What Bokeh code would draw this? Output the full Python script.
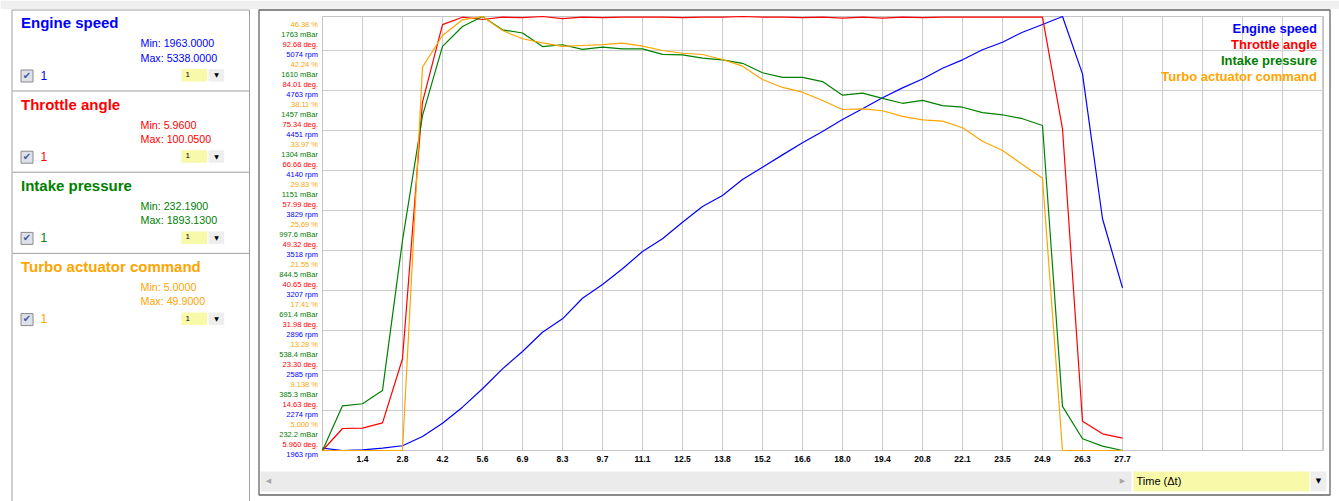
from bokeh.plotting import figure
from bokeh.models import Range1d
from bokeh.core.properties import value
from bokeh.embed import file_html
from bokeh.resources import INLINE

# ---------------- data ----------------
sample_index = list(range(41))
time_labels = ["1.4", "2.8", "4.2", "5.6", "6.9", "8.3", "9.7", "11.1", "12.5", "13.8",
               "15.2", "16.6", "18.0", "19.4", "20.8", "22.1", "23.5", "24.9", "26.3", "27.7"]

engine_speed = [1981, 1963, 1968, 1981, 2000, 2072, 2175, 2300, 2443, 2598, 2733, 2883, 2987, 3147,
                3254, 3376, 3510, 3609, 3738, 3860, 3946, 4070, 4166, 4262, 4356, 4444, 4537, 4620,
                4706, 4783, 4852, 4936, 5001, 5079, 5138, 5216, 5276, 5338, 4892, 3765, 3228]
throttle_angle = [5.96, 10.73, 10.8, 11.96, 25.84, 81.5, 98.3, 99.9, 99.4, 99.9, 99.8, 100.05, 99.6,
                  99.9, 99.8, 99.9, 99.9, 99.9, 99.8, 99.9, 99.9, 100.05, 99.9, 99.9, 99.8, 99.9,
                  99.7, 99.9, 99.7, 99.9, 99.8, 99.9, 99.9, 99.9, 99.9, 99.9, 99.9, 75.7, 12.3, 9.58, 8.63]
intake_pressure = [232.19, 403, 411, 462, 1036, 1514, 1779, 1855, 1893.13, 1842, 1830, 1778, 1785,
                   1767, 1776, 1769, 1769, 1748, 1746, 1734, 1727, 1714, 1678, 1660, 1660, 1644,
                   1592, 1600, 1580, 1561, 1572, 1552, 1546, 1525, 1517, 1502, 1476, 401, 277, 249, 232.19]
turbo_command = [5.0, 5.0, 5.0, 5.0, 5.0, 44.66, 47.94, 49.56, 49.9, 48.45, 47.6, 47.18, 46.8, 46.9,
                 47.0, 47.14, 46.83, 46.38, 46.1, 45.97, 45.45, 44.76, 43.38, 42.56, 42.07, 41.21,
                 40.28, 40.35, 40.15, 39.56, 39.21, 39.07, 38.39, 37.0, 36.04, 34.59, 33.17,
                 5.0, 5.0, 5.0, 5.0]

series_names = ["Engine speed", "Throttle angle", "Intake pressure", "Turbo actuator command"]
series_colors = ["#0000ff", "#ff0000", "#008000", "#ffa500"]
series_min = [1963.0, 5.96, 232.19, 5.0]
series_max = [5338.0, 100.05, 1893.13, 49.9]
series_units = ["rpm", "deg.", "mBar", "%"]

rpm_tick_text = ["1963", "2274", "2585", "2896", "3207", "3518", "3829", "4140", "4451", "4763", "5074"]
deg_tick_text = ["5.960", "14.63", "23.30", "31.98", "40.65", "49.32", "57.99", "66.66", "75.34", "84.01", "92.68"]
mbar_tick_text = ["232.2", "385.3", "538.4", "691.4", "844.5", "997.6", "1151", "1304", "1457", "1610", "1763"]
pct_tick_text = ["5.000", "9.138", "13.28", "17.41", "21.55", "25.69", "29.83", "33.97", "38.11", "42.24", "46.38"]

x_axis_title = "Time (\u0394t)"

# ---------------- layout constants (page pixels) ----------------
W, H = 1339, 501
PLOT_LEFT, PLOT_RIGHT, PLOT_TOP, PLOT_BOTTOM = 322, 1323, 16, 450
PX_PER_SAMPLE = 20
FONT = "Liberation Sans"
TDY = -1.0  # small vertical correction for middle-baseline text

p = figure(width=W, height=H, output_backend="svg", toolbar_location=None, title=None,
           x_range=Range1d(0, W), y_range=Range1d(H, 0),
           x_axis_location=None, y_axis_location=None,
           min_border=0, min_border_left=0, min_border_right=0,
           min_border_top=0, min_border_bottom=0)
p.grid.visible = False
p.outline_line_color = None
p.background_fill_color = "white"
p.border_fill_color = "white"

# scales of the plot area: sample index on x, each series' own min..max on y
plot_h = PLOT_BOTTOM - PLOT_TOP
ranges = {"t": Range1d(-PLOT_LEFT / PX_PER_SAMPLE, (W - PLOT_LEFT) / PX_PER_SAMPLE)}
range_names = ["rpm", "deg", "mbar", "pct"]
y_ranges = {}
for rn, lo, hi in zip(range_names, series_min, series_max):
    per_px = (hi - lo) / plot_h
    y_ranges[rn] = Range1d(lo - (H - PLOT_BOTTOM) * per_px, hi + PLOT_TOP * per_px)
p.extra_x_ranges = ranges
p.extra_y_ranges = y_ranges
t_end = (PLOT_RIGHT - PLOT_LEFT) / PX_PER_SAMPLE


def txt(px, py, s, size, color, bold=False, align="left", font=FONT):
    p.text(x=[px], y=[py + TDY], text=[s], text_font=value(font), text_font_size=value(f"{size}px"),
           text_color=color, text_font_style="bold" if bold else "normal",
           text_align=align, text_baseline="middle")


def rect(x0, y0, x1, y1, fill=None, line=None, lw=1.0):
    p.quad(left=[x0], right=[x1], top=[y0], bottom=[y1],
           fill_color=fill if fill else "white", fill_alpha=1.0 if fill else 0.0,
           line_color=line if line else "white", line_alpha=1.0 if line else 0.0, line_width=lw)


# top strip of the page
rect(0, 0, W, 8.5, fill="#efefef")

# ---------------- left side panel ----------------
rect(11.5, 9.5, 249, 520, fill="white", line="#a0a0a0")
section_h = 81.2
for k, (name, col) in enumerate(zip(series_names, series_colors)):
    dy = section_h * k
    if k > 0:
        p.segment(x0=[12], y0=[90.5 + section_h * (k - 1)], x1=[248.5], y1=[90.5 + section_h * (k - 1)],
                  line_color="#a0a0a0", line_width=1)
    txt(20.5, 23.3 + dy, name, 15, col, bold=True)
    txt(140, 43.8 + dy, f"Min: {series_min[k]:.4f}", 10.7, col)
    txt(140, 58 + dy, f"Max: {series_max[k]:.4f}", 10.7, col)
    rect(20.5, 69.5 + dy, 32.5, 81.5 + dy, fill="#dfe1ea", line="#8a8a8a")
    txt(26.5, 75.8 + dy, "\u2714", 10, "#3f5a9a", align="center", font="DejaVu Sans")
    txt(40, 75.8 + dy, "1", 12, col)
    rect(181, 68.5 + dy, 206.7, 81 + dy, fill="#f9f9aa")
    rect(208, 68.5 + dy, 223.7, 81 + dy, fill="#eeeeee")
    txt(185, 75 + dy, "1", 8, "#000000")
    txt(216, 75.3 + dy, "\u25BC", 6, "#000000", align="center", font="DejaVu Sans")

# ---------------- chart box ----------------
rect(258.5, 9.5, 1329.5, 494.5, line="#666666", lw=1.3)

# grid of the plot area
rpm_ticks = [float(t) for t in rpm_tick_text]
grid_x = list(range(2, int(t_end) + 1, 2))
p.segment(x0=grid_x, y0=[series_min[0]] * len(grid_x), x1=grid_x, y1=[series_max[0]] * len(grid_x),
          x_range_name="t", y_range_name="rpm", line_color="#cccccc", line_width=1)
p.segment(x0=[0] * len(rpm_ticks), y0=rpm_ticks, x1=[t_end] * len(rpm_ticks), y1=rpm_ticks,
          x_range_name="t", y_range_name="rpm", line_color="#cccccc", line_width=1)
p.quad(left=[0], right=[t_end], bottom=[series_min[0]], top=[series_max[0]],
       x_range_name="t", y_range_name="rpm", fill_alpha=0, line_color="#c4c4c4", line_width=1)

# series lines
series_values = [engine_speed, throttle_angle, intake_pressure, turbo_command]
for vals, col, rn in zip(series_values, series_colors, range_names):
    p.line(sample_index, vals, line_color=col, line_width=1.2, x_range_name="t", y_range_name=rn)

# x tick labels
tick_idx = [2 * (k + 1) for k in range(len(time_labels))]
p.text(x=tick_idx, y=[PLOT_BOTTOM + 9.5 + TDY] * len(tick_idx), text=time_labels, x_range_name="t",
       text_font=value(FONT), text_font_size=value("8.5px"), text_font_style="bold",
       text_color="#000000", text_align="center", text_baseline="middle")

# y tick labels, four stacked per grid line
tick_sets = [rpm_tick_text, deg_tick_text, mbar_tick_text, pct_tick_text]
offsets = [5, -5, -15, -25]
for texts, unit, col, rn, off in zip(tick_sets, series_units, series_colors, range_names, offsets):
    p.text(x=[PLOT_LEFT - 4.5] * len(texts), y=[float(t) for t in texts],
           text=[f"{t} {unit}" for t in texts], y_range_name=rn, y_offset=off + TDY,
           text_font=value(FONT), text_font_size=value("7.5px"), text_color=col,
           text_align="right", text_baseline="middle")

# legend (top-right)
for i, (name, col) in enumerate(zip(series_names, series_colors)):
    txt(1316.5, 28.5 + 16 * i, name, 13, col, bold=True, align="right")

# scrollbar and x selector
rect(260, 471, 1131, 491, fill="#ebebeb")
txt(268, 481, "\u25C0", 7, "#a8a8a8", align="center", font="DejaVu Sans")
txt(1122, 481, "\u25B6", 7, "#a8a8a8", align="center", font="DejaVu Sans")
rect(1133, 471, 1309, 491, fill="#f9f9aa")
rect(1310, 471, 1326, 491, fill="#eeeeee")
txt(1318, 481.5, "\u25BC", 7, "#000000", align="center", font="DejaVu Sans")
txt(1136, 481, x_axis_title, 11, "#000000")

open("out.html", "w").write(file_html(p, INLINE))
